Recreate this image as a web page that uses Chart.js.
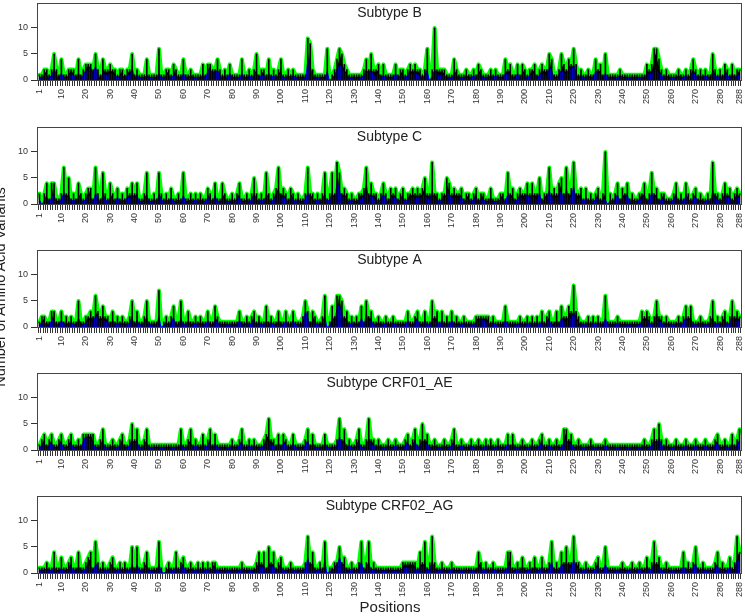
<!DOCTYPE html>
<html>
<head>
<meta charset="utf-8">
<script src="https://cdn.jsdelivr.net/npm/chart.js@4.4.0/dist/chart.umd.min.js"></script>
<style>
  body { margin: 0; background: #fff; width: 745px; height: 616px; overflow: hidden; position: relative; font-family: 'Liberation Sans', Arial, Helvetica, sans-serif; }
  .panel { position: absolute; left: 0; width: 745px; height: 120px; }
  #ytitle { position: absolute; left: -200px; top: 279px; width: 400px; height: 16px; line-height: 16px; text-align: center; font-size: 14.5px; color: #222; transform: rotate(-90deg); }
  #xtitle { position: absolute; left: 290px; top: 598px; width: 200px; text-align: center; font-size: 15px; color: #222; }
</style>
</head>
<body>
<div class="panel" style="top:0px"><canvas id="c1" width="745" height="120"></canvas></div>
<div class="panel" style="top:124px"><canvas id="c2" width="745" height="120"></canvas></div>
<div class="panel" style="top:247px"><canvas id="c3" width="745" height="120"></canvas></div>
<div class="panel" style="top:370px"><canvas id="c4" width="745" height="120"></canvas></div>
<div class="panel" style="top:493px"><canvas id="c5" width="745" height="120"></canvas></div>
<div id="ytitle">Number of Amino Acid Variants</div>
<div id="xtitle">Positions</div>
<script>
// positions 1..288
const positions = [];
for (let p = 1; p <= 288; p++) positions.push(p);
const xTickLabels = [1, 10, 20, 30, 40, 50, 60, 70, 80, 90, 100, 110, 120, 130, 140, 150, 160, 170, 180, 190, 200, 210, 220, 230, 240, 250, 260, 270, 280, 288];
const yTickValues = [0, 5, 10];
const titles = ["Subtype B", "Subtype C", "Subtype A", "Subtype CRF01_AE", "Subtype CRF02_AG"];

// total variants per position (green line / black spikes)
const totalB = [
  1,1,2,2,1,2,5,2,1,4,1,1,2,2,2,1,4,1,2,3,3,3,2,5,
  2,1,4,2,2,3,2,2,1,2,2,1,2,2,5,1,2,1,1,1,4,1,1,1,
  1,6,1,1,2,2,1,3,2,1,1,4,1,1,2,1,1,1,1,3,1,3,3,2,
  2,4,2,1,2,1,3,1,1,1,1,4,1,1,2,1,2,5,1,2,2,1,4,1,
  2,1,2,4,1,1,2,1,2,1,1,1,1,1,8,7,2,1,1,1,1,1,6,0,
  1,2,4,6,5,3,2,1,1,1,1,1,1,2,4,2,5,2,2,3,1,3,1,1,
  1,1,3,1,2,2,1,2,3,2,3,2,2,1,2,6,0,2,10,2,2,2,2,1,
  1,1,4,2,1,1,1,2,1,1,2,1,3,2,1,1,1,2,1,2,1,1,1,4,
  2,3,1,1,3,1,3,2,1,2,2,3,1,2,3,2,2,5,4,1,1,2,5,3,
  2,4,3,6,3,1,2,1,1,2,1,1,4,2,3,1,5,1,1,1,1,1,2,1,
  1,1,1,1,1,1,1,1,1,3,2,3,6,6,4,2,1,2,1,1,1,1,2,1,
  1,2,1,2,4,2,1,2,1,2,1,1,5,2,1,2,1,3,2,1,3,1,2,2
];
const totalC = [
  2,0,2,4,1,4,4,1,1,2,7,2,5,1,2,1,4,2,1,2,3,3,1,7,
  2,1,6,2,1,4,2,1,3,1,2,1,3,2,4,2,4,1,1,2,6,1,1,2,
  1,6,2,1,2,1,3,1,1,2,1,6,1,1,2,1,2,1,2,1,1,3,2,1,
  4,1,1,4,2,1,1,2,1,2,4,1,1,2,1,2,5,2,1,2,1,6,2,1,
  2,3,7,2,3,2,1,3,2,1,2,1,1,2,7,2,2,1,2,1,2,6,1,2,
  6,2,8,6,2,3,2,1,2,1,1,2,2,3,7,2,4,2,2,1,2,4,2,1,
  3,2,3,1,2,3,1,2,2,3,2,3,2,3,5,2,2,8,2,2,1,2,2,5,
  4,2,3,2,2,3,1,2,2,1,2,3,1,2,2,1,1,3,1,1,1,2,2,1,
  6,2,3,1,2,3,2,2,4,2,4,2,2,5,1,2,2,7,2,3,2,4,5,2,
  7,2,3,8,2,2,3,1,3,1,2,1,2,3,1,2,10,0,2,1,2,4,1,3,
  2,4,1,2,1,1,2,2,4,1,2,6,2,3,1,2,2,1,1,1,2,4,1,2,
  1,4,2,1,2,3,1,2,1,1,2,1,8,2,2,1,2,4,2,3,1,2,3,2
];
const totalA = [
  1,2,2,1,1,3,3,1,1,3,1,2,1,2,1,1,5,1,1,2,2,3,2,6,
  3,2,4,2,2,1,3,1,2,1,2,1,1,2,5,1,3,1,1,2,5,1,1,1,
  1,7,0,1,2,1,2,4,1,1,5,1,1,3,1,1,2,1,2,1,1,3,1,1,
  4,2,1,1,1,1,1,1,1,1,3,1,1,2,1,2,3,1,2,1,1,4,1,2,
  1,1,3,1,1,3,1,1,3,1,1,1,2,5,3,1,3,2,1,1,2,6,0,1,
  4,2,6,6,5,2,3,1,2,1,2,1,4,1,5,2,3,1,1,2,1,1,2,1,
  1,2,1,1,1,1,1,3,1,1,2,3,1,1,3,1,1,5,2,3,1,3,1,2,
  1,3,1,2,1,1,2,1,1,1,1,2,2,2,2,2,2,1,2,1,1,1,1,4,
  1,1,1,1,1,2,1,1,2,1,2,1,2,1,3,1,2,3,1,1,3,1,4,2,
  2,4,3,8,3,2,1,1,1,2,1,2,1,2,1,1,6,1,1,1,1,2,1,1,
  1,1,1,1,1,1,1,3,2,3,2,1,2,5,2,2,1,2,1,1,1,1,2,1,
  2,4,2,4,1,1,1,2,1,1,1,2,5,1,2,1,2,3,1,2,5,2,3,2
];
const totalAE = [
  1,2,3,1,2,3,1,1,2,3,1,1,2,3,1,1,2,1,3,3,3,3,3,1,
  1,2,4,1,1,1,2,1,1,2,3,1,1,2,5,2,4,1,1,2,4,1,1,1,
  1,1,1,1,1,1,1,1,1,1,4,1,1,2,4,1,2,1,1,3,1,2,4,1,
  3,1,1,1,1,1,1,2,1,1,2,4,1,1,2,1,2,1,1,1,2,3,6,2,
  2,1,3,1,3,2,1,1,3,1,1,1,1,2,4,1,3,1,1,1,1,3,1,1,
  1,1,2,6,2,4,1,2,1,1,2,4,1,1,2,6,2,2,1,2,1,1,1,2,
  1,1,2,1,1,1,2,3,1,2,4,1,2,5,2,3,1,1,2,1,1,1,2,1,
  1,2,4,1,1,2,1,1,1,2,1,1,2,1,1,2,1,2,1,1,2,1,1,1,
  3,1,3,1,1,1,2,1,1,1,2,1,1,2,3,1,1,2,1,1,2,1,1,4,
  4,2,3,1,1,2,1,1,1,1,2,1,1,1,1,1,2,1,1,1,1,1,1,1,
  1,1,1,1,1,1,1,1,2,1,1,2,4,2,5,2,1,2,1,1,1,2,1,1,
  1,2,1,1,1,2,1,1,1,2,1,1,1,2,3,1,1,2,1,1,3,1,2,4
];
const totalAG = [
  1,1,1,2,1,1,4,1,1,3,1,1,2,3,1,1,4,1,1,2,3,4,1,6,
  2,1,2,1,1,2,3,1,1,2,1,2,1,1,5,1,5,1,1,2,4,1,1,1,
  1,6,1,0,1,2,1,1,4,1,2,3,1,1,2,1,1,2,1,2,1,2,1,2,
  2,1,1,1,1,1,1,1,1,1,1,2,1,1,1,1,1,2,4,2,4,1,5,2,
  4,1,2,3,1,1,1,2,1,1,1,1,1,2,7,2,4,1,1,2,1,6,0,1,
  1,2,2,5,2,3,1,1,2,1,1,2,6,1,2,6,1,2,1,1,1,1,1,1,
  1,1,1,1,1,2,2,2,2,2,2,1,4,2,6,1,2,7,2,1,1,2,1,1,
  1,2,1,1,1,1,1,1,1,1,1,1,4,2,1,2,1,1,2,1,1,1,1,1,
  4,4,1,1,2,1,3,1,1,2,1,3,1,1,3,1,1,2,6,1,2,1,4,2,
  5,2,2,7,2,2,1,1,2,1,1,1,2,3,1,1,5,1,1,1,1,1,1,2,
  1,1,1,2,1,1,2,1,1,3,1,2,6,2,3,1,1,2,1,1,1,1,1,1,
  4,1,2,1,2,5,1,1,2,1,1,1,1,2,4,1,2,1,1,3,1,2,7,4
];

// blue series per position
const blueB = [
  .5,.5,1,1,.5,1,2.5,1,.5,1.5,.5,.5,1,1,1,.5,1.5,.5,1,2,2,2.5,1.5,3,
  1,.5,1.5,1,1,1.5,1,1,.5,1,1,.5,1,1,3,.5,1,.5,.5,.5,1,.5,.5,.5,
  .5,1.5,.5,.5,1,1,.5,1,1,.5,.5,1.5,.5,.5,1,.5,.5,.5,.5,1,.5,2,2,1.5,
  1.5,2,1,.5,1,.5,1.5,.5,.5,.5,.5,1.5,.5,.5,1,.5,1,1.5,.5,1,1,.5,1.5,.5,
  1,.5,1,1.5,.5,.5,1,.5,1,.5,.5,.5,.5,.5,4.5,3,1,.5,.5,.5,.5,.5,2,0,
  .5,1,2,3,2.5,1.5,1,.5,.5,.5,.5,.5,.5,1,2,1,2,1,1,1.5,.5,1,.5,.5,
  .5,.5,1.5,.5,1,1,.5,1,1.5,1,1.5,1,1,.5,1,2,0,1,2,1,1,1,1,.5,
  .5,.5,1.5,1,.5,.5,.5,1,.5,.5,1,.5,1.5,1,.5,.5,.5,1,.5,1,.5,.5,.5,1.5,
  1,1.5,.5,.5,1.5,.5,1.5,1,.5,1,1,1.5,.5,1,1.5,1,1,2.5,2,.5,.5,1,2,1.5,
  1,2.5,2,3,1.5,.5,1,.5,.5,1,.5,.5,2,1,1.5,.5,1.5,.5,.5,.5,.5,.5,1,.5,
  .5,.5,.5,.5,.5,.5,.5,.5,.5,1.5,1,1.5,2,2,1.5,1,.5,1,.5,.5,.5,.5,1,.5,
  .5,1,.5,1,1.5,1,.5,1,.5,1,.5,.5,2,1,.5,1,.5,1.5,1,.5,1.5,.5,1,1
];
const blueC = [
  1,0,1,1.5,.5,1.5,2,.5,.5,1,2.5,1,2,.5,1,.5,1.5,1,.5,1,1.5,1.5,.5,2.5,
  1,.5,2,1,.5,1.5,1,.5,1.5,.5,1,.5,1.5,1,2,1,2,.5,.5,1,2,.5,.5,1,
  .5,2,1,.5,1,.5,1.5,.5,.5,1,.5,2,.5,.5,1,.5,1,.5,1,.5,.5,1.5,1,.5,
  2,.5,.5,1.5,1,.5,.5,1,.5,1,1.5,.5,.5,1,.5,1,2,1,.5,1,.5,2.5,1,.5,
  1,1.5,3,1,1.5,1,.5,1.5,1,.5,1,.5,.5,1,2.5,1,1,.5,1,.5,1,2,.5,1,
  2,1,5,3,1,1.5,1,.5,1,.5,.5,1,1,1.5,4.5,1,2,1,1,.5,1,2,1,.5,
  1.5,1,1.5,.5,1,1.5,.5,1,1,1.5,1,1.5,1,1.5,2,1,1,3,1,1,.5,1,1,2,
  2,1,1.5,1,1,1.5,.5,1,1,.5,1,1.5,.5,1,1,.5,.5,1.5,.5,.5,.5,1,1,.5,
  2.5,1,1.5,.5,1,1.5,1,1,2,1,2,1,1,2.5,.5,1,1,3,1,1.5,1,2,2.5,1,
  3.5,1,1.5,4,1,1,1.5,.5,1.5,.5,1,.5,1,1.5,.5,1,1,0,1,.5,1,2,.5,1.5,
  1,2,.5,1,.5,.5,1,1,2,.5,1,2.5,1,1.5,.5,1,1,.5,.5,.5,1,2,.5,1,
  .5,2,1,.5,1,1.5,.5,1,.5,.5,1,.5,3,1,1,.5,1,2,1,1.5,.5,1,1.5,1
];
const blueA = [
  .5,1,1,.5,.5,1.5,1.5,.5,.5,1.5,.5,1,.5,1,.5,.5,2,.5,.5,1,1,1.5,1,2.5,
  1.5,1,2,1,1,.5,1.5,.5,1,.5,1,.5,.5,1,2,.5,1.5,.5,.5,1,2,.5,.5,.5,
  .5,2.5,0,.5,1,.5,1,2,.5,.5,2,.5,.5,1.5,.5,.5,1,.5,1,.5,.5,1.5,.5,.5,
  1.5,1,.5,.5,.5,.5,.5,.5,.5,.5,1.5,.5,.5,1,.5,1,1.5,.5,1,.5,.5,1.5,.5,1,
  .5,.5,1.5,.5,.5,1.5,.5,.5,1.5,.5,.5,.5,1,3.5,2,.5,1.5,1,.5,.5,1,2.5,0,.5,
  2,1,4.5,4,3,1,1.5,.5,1,.5,1,.5,2,.5,3,1,1.5,.5,.5,1,.5,.5,1,.5,
  .5,1,.5,.5,.5,.5,.5,1.5,.5,.5,1,1.5,.5,.5,1.5,.5,.5,2,1,1.5,.5,1.5,.5,1,
  .5,1.5,.5,1,.5,.5,1,.5,.5,.5,.5,1,1.5,1.5,1.5,1,1,.5,1,.5,.5,.5,.5,1.5,
  .5,.5,.5,.5,.5,1,.5,.5,1,.5,1,.5,1,.5,1.5,.5,1,1.5,.5,.5,1.5,.5,2,1,
  1,2,1.5,3,1.5,1,.5,.5,.5,1,.5,1,.5,1,.5,.5,2,.5,.5,.5,.5,1,.5,.5,
  .5,.5,.5,.5,.5,.5,.5,1.5,1,1.5,1,.5,1,3,1,1,.5,1,.5,.5,.5,.5,1,.5,
  1,2,1,2,.5,.5,.5,1,.5,.5,.5,1,2,.5,1,.5,1,1.5,.5,1,3,1,1.5,1
];
const blueAE = [
  .5,1,1.5,.5,1,1.5,.5,.5,1,1.5,.5,.5,1,1.5,.5,.5,1,.5,2,2.5,2.5,2,1.5,.5,
  .5,1,2,.5,.5,.5,1,.5,.5,1,1.5,.5,.5,1,2,1,2,.5,.5,1,1.5,.5,.5,.5,
  .5,.5,.5,.5,.5,.5,.5,.5,.5,.5,1.5,.5,.5,1,1.5,.5,1,.5,.5,1.5,.5,1,1.5,.5,
  1.5,.5,.5,.5,.5,.5,.5,1,.5,.5,1,1.5,.5,.5,1,.5,1,.5,.5,.5,1,1.5,2,1,
  1,.5,1.5,.5,1.5,1,.5,.5,1.5,.5,.5,.5,.5,1,2,.5,1.5,.5,.5,.5,.5,1.5,.5,.5,
  .5,.5,1,3,1,2,.5,1,.5,.5,1,2,.5,.5,1,2.5,1,1,.5,1,.5,.5,.5,1,
  .5,.5,1,.5,.5,.5,1,1.5,.5,1,2,.5,1,2,1,1.5,.5,.5,1,.5,.5,.5,1,.5,
  .5,1,1.5,.5,.5,1,.5,.5,.5,1,.5,.5,1,.5,.5,1,.5,1,.5,.5,1,.5,.5,.5,
  1.5,.5,1.5,.5,.5,.5,1,.5,.5,.5,1,.5,.5,1,1.5,.5,.5,1,.5,.5,1,.5,.5,2,
  2,1,1.5,.5,.5,1,.5,.5,.5,.5,1,.5,.5,.5,.5,.5,1,.5,.5,.5,.5,.5,.5,.5,
  .5,.5,.5,.5,.5,.5,.5,.5,1,.5,.5,1,2,1,2.5,1,.5,1,.5,.5,.5,1,.5,.5,
  .5,1,.5,.5,.5,1,.5,.5,.5,1,.5,.5,.5,1,1.5,.5,.5,1,.5,.5,1.5,.5,1,2
];
const blueAG = [
  .5,.5,.5,1,.5,.5,1.5,.5,.5,1,.5,.5,1,1.5,.5,.5,1.5,.5,.5,1,1.5,1.5,.5,2,
  1,.5,1,.5,.5,1,1.5,.5,.5,1,.5,1,.5,.5,2,.5,2,.5,.5,1,1.5,.5,.5,.5,
  .5,2,.5,0,.5,1,.5,.5,1.5,.5,1,1.5,.5,.5,1,.5,.5,1,.5,1,.5,1,.5,1,
  1,.5,.5,.5,.5,.5,.5,.5,.5,.5,.5,1,.5,.5,.5,.5,.5,1,1.5,1,1.5,.5,2,1,
  1.5,.5,1,1.5,.5,.5,.5,1,.5,.5,.5,.5,.5,1,3.5,1,2,.5,.5,1,.5,3,0,.5,
  .5,1,1.5,3.5,1.5,1.5,.5,.5,1,.5,.5,1,2.5,.5,1,2.5,.5,1,.5,.5,.5,.5,.5,.5,
  .5,.5,.5,.5,.5,1,1,1,1,1,1,.5,1.5,1,2,.5,1,2.5,1,.5,.5,1,.5,.5,
  .5,1,.5,.5,.5,.5,.5,.5,.5,.5,.5,.5,1.5,1,.5,1,.5,.5,1,.5,.5,.5,.5,.5,
  1.5,1.5,.5,.5,1,.5,1.5,.5,.5,1,.5,1.5,.5,.5,1.5,.5,.5,1,2.5,.5,1,.5,2,1,
  2.5,1,1,3,1,1,.5,.5,1,.5,.5,.5,1,1.5,.5,.5,2,.5,.5,.5,.5,.5,.5,1,
  .5,.5,.5,1,.5,.5,1,.5,.5,1.5,.5,1,2.5,1,1.5,.5,.5,1,.5,.5,.5,.5,.5,.5,
  1.5,.5,1,.5,1,2,.5,.5,1,.5,.5,.5,.5,1,1.5,.5,1,.5,.5,1.5,.5,1,3,2
];

const font = "'Liberation Sans', Arial, Helvetica, sans-serif";

// frame round the plot and the subtype title inside it
const framePlugin = {
  id: 'frame',
  afterDraw(chart, args, opts) {
    const a = chart.chartArea;
    const ctx = chart.ctx;
    ctx.save();
    ctx.strokeStyle = '#444';
    ctx.lineWidth = 1;
    ctx.strokeRect(a.left + 0.5, a.top + 0.5, a.right - a.left - 1, a.bottom - a.top);
    ctx.fillStyle = '#222';
    ctx.font = '14px ' + font;
    ctx.textAlign = 'center';
    ctx.textBaseline = 'middle';
    ctx.fillText(opts.text, (a.left + a.right) / 2, a.top + 10);
    ctx.restore();
  }
};

function createPanel(id, title, total, blue) {
  const ctx = document.getElementById(id).getContext('2d');
  let config = {
    type: 'line',
    data: {
      labels: positions,
      datasets: [
        {
          type: 'bar',
          label: 'spikes',
          data: total,
          backgroundColor: '#000',
          barThickness: 1,
          order: 1
        },
        {
          label: 'blue',
          data: blue,
          borderWidth: 0,
          pointRadius: 0,
          fill: 'origin',
          backgroundColor: '#0000ff',
          order: 2
        },
        {
          label: 'total',
          data: total,
          borderColor: '#00ff00',
          borderWidth: 4,
          borderJoinStyle: 'round',
          borderCapStyle: 'round',
          pointRadius: 0,
          fill: 'origin',
          backgroundColor: '#000',
          order: 3
        }
      ]
    },
    options: {
      responsive: false,
      animation: false,
      devicePixelRatio: 1,
      layout: { padding: { top: 3, right: 3, left: 0, bottom: 0 } },
      scales: {
        x: {
          type: 'linear',
          min: 0.5,
          max: 288.5,
          afterBuildTicks: s => { s.ticks = positions.map(v => ({ value: v })); },
          afterFit: s => { s.height = 40; s.paddingLeft = 0; s.paddingRight = 0; },
          border: { display: false },
          grid: { drawOnChartArea: false, color: '#000', tickLength: 6, lineWidth: 0.8 },
          ticks: {
            autoSkip: false,
            minRotation: 90,
            maxRotation: 90,
            padding: 3,
            color: '#333',
            font: { size: 9, family: font },
            callback: v => xTickLabels.includes(v) ? String(v) : ''
          }
        },
        y: {
          min: 0,
          max: 14.8,
          afterBuildTicks: s => { s.ticks = yTickValues.map(v => ({ value: v })); },
          afterFit: s => { s.width = 37; s.paddingTop = 0; s.paddingBottom = 0; },
          border: { display: false },
          grid: { drawOnChartArea: false, color: '#333', tickLength: 6 },
          ticks: { padding: 3, color: '#333', font: { size: 9, family: font } }
        }
      },
      plugins: {
        legend: { display: false },
        tooltip: { enabled: false },
        frame: { text: title }
      }
    },
    plugins: [framePlugin]
  };
  return new Chart(ctx, config);
}

createPanel('c1', titles[0], totalB, blueB);
createPanel('c2', titles[1], totalC, blueC);
createPanel('c3', titles[2], totalA, blueA);
createPanel('c4', titles[3], totalAE, blueAE);
createPanel('c5', titles[4], totalAG, blueAG);
</script>
</body>
</html>
